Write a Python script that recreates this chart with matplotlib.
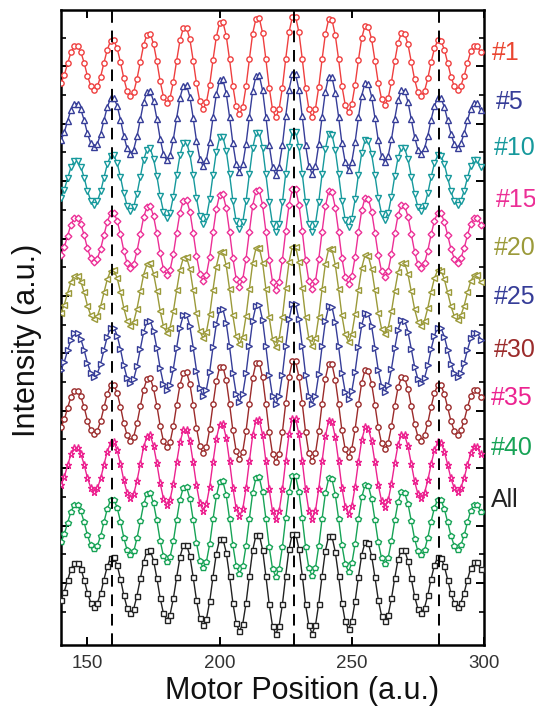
import numpy as np
import matplotlib
matplotlib.use("Agg")
import matplotlib.pyplot as plt

plt.rcParams['font.family'] = ['Liberation Sans', 'DejaVu Sans']

# Motor position sampling grid (a.u.)
motor_position = np.arange(140.0, 300.0, 1.25)

# Normalised interferogram (shared shape of all traces)
profile = [
    -0.29, -0.15, 0.05, 0.24, 0.35, 0.35, 0.25, 0.06, -0.17, -0.34,
    -0.41, -0.35, -0.18, 0.06, 0.29, 0.44, 0.45, 0.31, 0.07, -0.21,
    -0.43, -0.52, -0.45, -0.22, 0.08, 0.37, 0.55, 0.57, 0.39, 0.09,
    -0.26, -0.53, -0.64, -0.55, -0.27, 0.10, 0.45, 0.66, 0.67, 0.47,
    0.10, -0.30, -0.61, -0.74, -0.63, -0.32, 0.11, 0.51, 0.76, 0.77,
    0.53, 0.12, -0.34, -0.70, -0.84, -0.71, -0.35, 0.12, 0.57, 0.83,
    0.84, 0.58, 0.12, -0.37, -0.75, -0.89, -0.75, -0.37, 0.13, 0.59,
    0.86, 0.86, 0.59, 0.13, -0.37, -0.74, -0.88, -0.74, -0.36, 0.12,
    0.56, 0.82, 0.81, 0.54, 0.12, -0.34, -0.67, -0.80, -0.66, -0.32,
    0.11, 0.49, 0.71, 0.69, 0.47, 0.10, -0.29, -0.57, -0.67, -0.56,
    -0.27, 0.09, 0.41, 0.58, 0.57, 0.38, 0.08, -0.23, -0.45, -0.52,
    -0.43, -0.21, 0.07, 0.31, 0.45, 0.44, 0.29, 0.06, -0.18, -0.35,
    -0.42, -0.34, -0.17, 0.06, 0.26, 0.36, 0.36, 0.24,
]

trace_labels = ['#1', '#5', '#10', '#15', '#20', '#25', '#30', '#35', '#40', 'All']
trace_offsets = [9, 8, 7, 6, 5, 4, 3, 2, 1, 0]
dashed_positions = [159.4, 228.1, 283.1]
x_ticks = [150, 200, 250, 300]

colors = ['#ef3f3f', '#363d98', '#16999c', '#ec2f96', '#9b9a3a',
          '#363d98', '#9b2b2b', '#ec2390', '#17a356', '#222222']
label_colors = ['#ea4530', '#363d98', '#16999c', '#ec2f96', '#9b9a3a',
                '#363d98', '#9b2b2b', '#ec2390', '#17a356', '#222222']
markers = ['o', '^', 'v', 'D', '<', '>', 'o', '*', 'p', 's']
msizes = [3.8, 4.2, 4.2, 3.4, 4.2, 4.2, 3.8, 5.2, 4.4, 3.6]
label_y_px = [53, 102, 148, 200, 248, 297, 350, 398, 448, 500]
label_x_px = [492, 496, 494, 496, 494, 494, 494, 491, 491, 491]

W, H = 535, 713
fig = plt.figure(figsize=(W / 100, H / 100), dpi=100)
ax = fig.add_axes([61 / W, (H - 645) / H, (484 - 61) / W, (645 - 10) / H])

y = np.array(profile)
x = motor_position[:len(y)]
for lab, off, c, m, ms in zip(trace_labels, trace_offsets, colors, markers, msizes):
    ax.plot(x, y + off, color=c, lw=1.0, marker=m, ms=ms, mfc='white',
            mec=c, mew=1.0, zorder=3)

for xd in dashed_positions:
    ax.axvline(xd, color='black', lw=1.4, ls=(0, (6, 4)), zorder=4)

ax.set_xlim(140, 300)
ax.set_ylim(-1.08, 9.98)
ax.set_xticks(x_ticks)
ax.set_yticks(trace_offsets)
ax.set_yticks([v + 0.5 for v in trace_offsets] + [-0.5], minor=True)
ax.set_yticklabels([])
ax.tick_params(axis='both', which='major', direction='in', top=True, right=True,
               length=6, width=1.4, labelsize=13.5, labelcolor='#333333', pad=7)
ax.tick_params(axis='y', which='minor', direction='in', left=True, right=True,
               length=3.5, width=1.2)
for s in ax.spines.values():
    s.set_linewidth(1.8)

ax.set_xlabel('Motor Position (a.u.)', fontsize=22, color='#111111')
ax.xaxis.label.set_va('center')
ax.xaxis.set_label_coords(0.57, -0.072)
ax.set_ylabel('Intensity (a.u.)', fontsize=22, color='#111111')
ax.yaxis.label.set_va('center')
ax.yaxis.set_label_coords(-0.08, 0.48)

for lab, c, yp, xp in zip(trace_labels, label_colors, label_y_px, label_x_px):
    fig.text(xp / W, 1 - yp / H, lab, color=c, fontsize=18, va='center', ha='left')

fig.savefig('out.png', dpi=100)
